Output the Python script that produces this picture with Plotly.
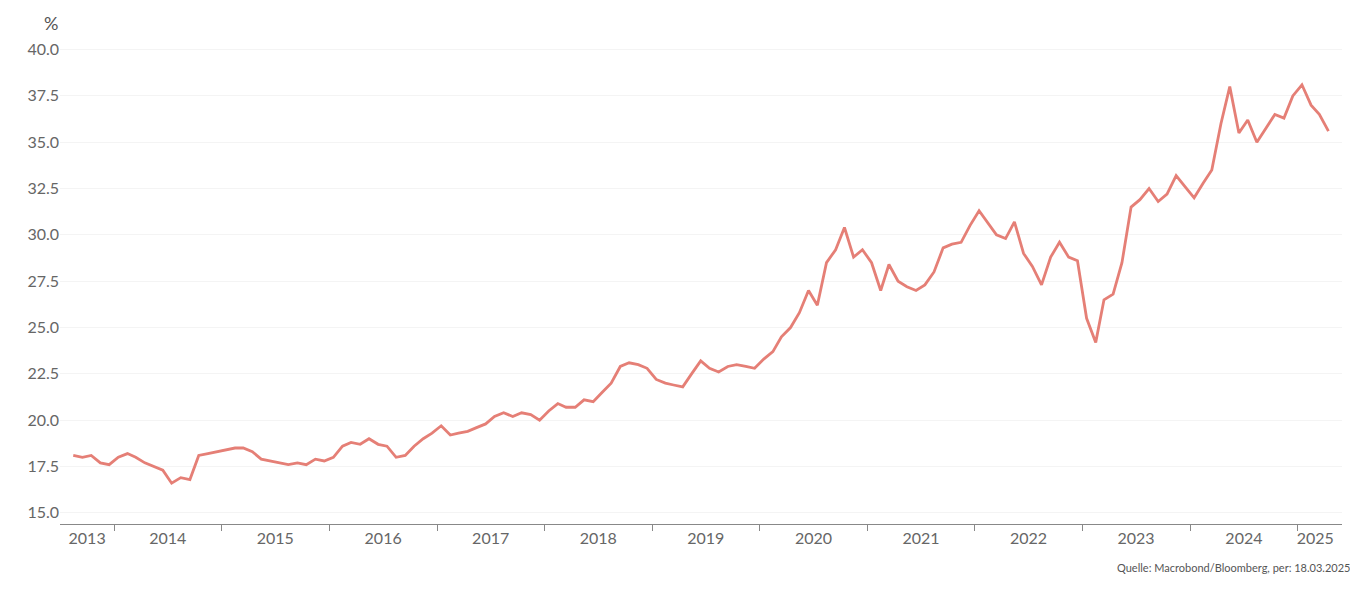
import pandas as pd
import plotly.graph_objects as go

START_MONTH = "2013-07-15"

# monthly readings, Jul 2013 .. Mar 2025
VALUES = [
    18.1, 18.0, 18.1, 17.7, 17.6, 18.0,
    18.2, 18.0, 17.7, 17.5, 17.3, 16.6, 16.9, 16.8, 18.1, 18.2, 18.3, 18.4,
    18.5, 18.5, 18.3, 17.9, 17.8, 17.7, 17.6, 17.7, 17.6, 17.9, 17.8, 18.0,
    18.6, 18.8, 18.7, 19.0, 18.7, 18.6, 18.0, 18.1, 18.6, 19.0, 19.3, 19.7,
    19.2, 19.3, 19.4, 19.6, 19.8, 20.2, 20.4, 20.2, 20.4, 20.3, 20.0, 20.5,
    20.9, 20.7, 20.7, 21.1, 21.0, 21.5, 22.0, 22.9, 23.1, 23.0, 22.8, 22.2,
    22.0, 21.9, 21.8, 22.5, 23.2, 22.8, 22.6, 22.9, 23.0, 22.9, 22.8, 23.3,
    23.7, 24.5, 25.0, 25.8, 27.0, 26.2, 28.5, 29.2, 30.4, 28.8, 29.2, 28.5,
    27.0, 28.4, 27.5, 27.2, 27.0, 27.3, 28.0, 29.3, 29.5, 29.6, 30.5, 31.3,
    30.6, 30.0, 29.8, 30.7, 29.0, 28.3, 27.3, 28.8, 29.6, 28.8, 28.6, 25.5,
    24.2, 26.5, 26.8, 28.5, 31.5, 31.9, 32.5, 31.8, 32.2, 33.2, 32.6, 32.0,
    32.8, 33.5, 36.0, 38.0, 35.5, 36.2, 35.0, 35.8, 36.5, 36.3, 37.5, 38.1,
    37.0, 36.5, 35.6,
]
YEAR_LABELS = [str(y) for y in range(2013, 2026)]
LABEL_POS = ["2013-10-01"] + [f"{y}-07-02" for y in range(2014, 2025)] + ["2025-03-01"]

dates = pd.date_range(START_MONTH, periods=len(VALUES), freq="MS") + pd.Timedelta(days=14)

fig = go.Figure(go.Scatter(
    x=dates, y=VALUES, mode="lines",
    line=dict(color="#e57f76", width=2.8),
    hoverinfo="skip",
))
font = dict(family="Lato, sans-serif", size=16, color="#666666")
fig.update_layout(
    width=1358, height=591,
    paper_bgcolor="white", plot_bgcolor="white",
    margin=dict(l=52, r=24, t=36, b=75),
    showlegend=False,
    font=font,
    xaxis=dict(
        range=["2013-07-01", "2025-05-31"],
        tickvals=LABEL_POS, ticktext=YEAR_LABELS, ticks="",
        showgrid=False, showline=True, linecolor="#888888", linewidth=1,
        minor=dict(ticks="outside", ticklen=6, tickcolor="#888888",
                   tick0="2014-01-01", dtick="M12", showgrid=False),
    ),
    yaxis=dict(
        range=[14.4, 40.3], tickvals=[15 + 2.5 * i for i in range(11)],
        tickformat=".1f", showgrid=True, gridcolor="#f4f4f4",
        zeroline=False, showline=False, ticks="",
    ),
    annotations=[
        dict(text="%", x=0, xref="paper", xshift=0, y=1, yref="paper", yshift=8,
             showarrow=False, font=dict(size=18, color="#555555"), yanchor="bottom",
             xanchor="right"),
        dict(text="Quelle: Macrobond/Bloomberg, per: 18.03.2025", x=1, xref="paper",
             xanchor="right", xshift=10, y=0, yref="paper", yshift=-52,
             showarrow=False, font=dict(size=11, color="#555555")),
    ],
)
fig.write_html("out.html")
